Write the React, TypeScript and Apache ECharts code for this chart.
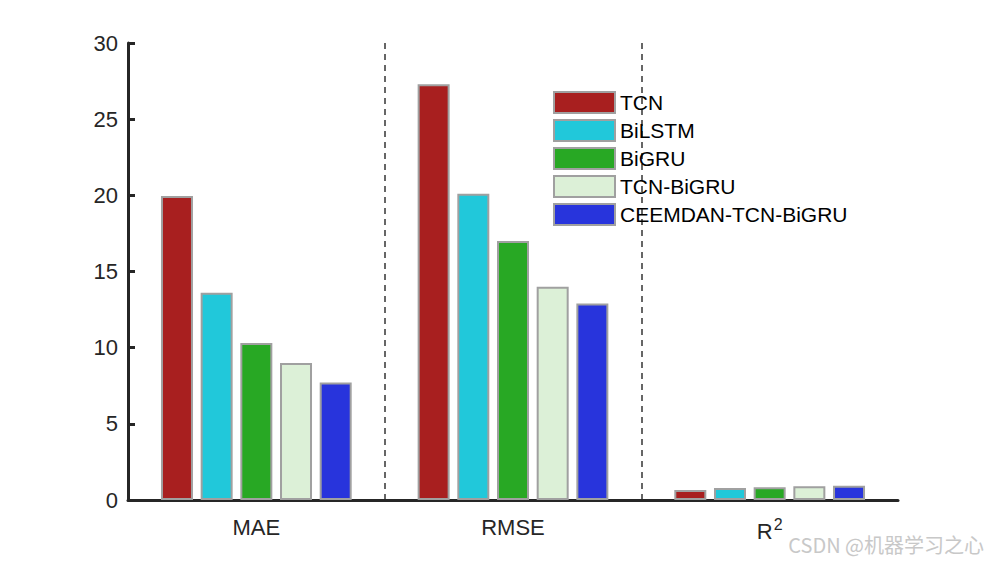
import { useEffect, useRef } from "react";
import * as echarts from "echarts";

const categories = ["MAE", "RMSE", "R2"];
const seriesNames = ["TCN", "BiLSTM", "BiGRU", "TCN-BiGRU", "CEEMDAN-TCN-BiGRU"];
const tcn = [19.95, 27.3, 0.66];
const bilstm = [13.6, 20.1, 0.78];
const bigru = [10.3, 17.0, 0.84];
const tcnBigru = [9.0, 14.0, 0.91];
const ceemdan = [7.72, 12.9, 0.93];
const colors = ["#a81f1f", "#21c8da", "#28a824", "#dcf0d7", "#2834dc"];

const allValues = [tcn, bilstm, bigru, tcnBigru, ceemdan];
const font = "'Liberation Sans', Arial, sans-serif";

function App() {
  const chartRef = useRef<HTMLDivElement>(null);

  useEffect(() => {
    const chart = echarts.init(chartRef.current, null, { renderer: "svg" });
    chart.setOption({
      animation: false,
      grid: { left: 128, top: 43, right: 92, bottom: 63 },
      legend: {
        left: 553,
        top: 91,
        padding: 0,
        orient: "vertical",
        itemWidth: 61,
        itemHeight: 21,
        itemGap: 5,
        icon: "rect",
        data: seriesNames,
        textStyle: { fontFamily: font, fontSize: 21, color: "#000" },
      },
      xAxis: {
        type: "category",
        data: categories,
        axisLine: { lineStyle: { color: "#262626", width: 3 } },
        axisTick: { inside: true, alignWithLabel: true, length: 7, lineStyle: { width: 3, color: "#262626" } },
        axisLabel: {
          margin: 16,
          fontFamily: font,
          fontSize: 22,
          color: "#262626",
          formatter: (v: string) => (v === "R2" ? "{a|R}{sup|2}" : v),
          rich: {
            a: { fontFamily: font, fontSize: 22, color: "#262626" },
            sup: { fontFamily: font, fontSize: 16, color: "#262626", padding: [0, 0, 14, 1] },
          },
        },
        splitLine: {
          show: true,
          showMinLine: false,
          showMaxLine: false,
          lineStyle: { color: "#666", width: 2, type: [6, 5] },
        },
      },
      yAxis: {
        type: "value",
        min: 0,
        max: 30,
        interval: 5,
        axisLine: { show: true, lineStyle: { color: "#262626", width: 3 } },
        axisTick: { show: true, inside: true, length: 7, lineStyle: { width: 3, color: "#262626" } },
        axisLabel: { margin: 10, fontFamily: font, fontSize: 22, color: "#262626" },
        splitLine: { show: false },
      },
      series: seriesNames.map((name, i) => ({
        name,
        type: "bar",
        data: allValues[i],
        barWidth: 32,
        barGap: "24%",
        itemStyle: { color: colors[i], borderColor: "#a0a0a0", borderWidth: 2 },
      })),
      graphic: [
        {
          type: "text",
          right: 6,
          top: 534,
          style: {
            text: "CSDN @机器学习之心",
            font: "20px 'Noto Sans CJK SC', sans-serif",
            fill: "#c8c8c8",
          },
        },
      ],
    });
    return () => chart.dispose();
  }, []);

  return (
    <div
      ref={chartRef}
      style={{ position: "fixed", left: 0, top: 0, width: 990, height: 563, background: "#fff" }}
    />
  );
}

export default App;
